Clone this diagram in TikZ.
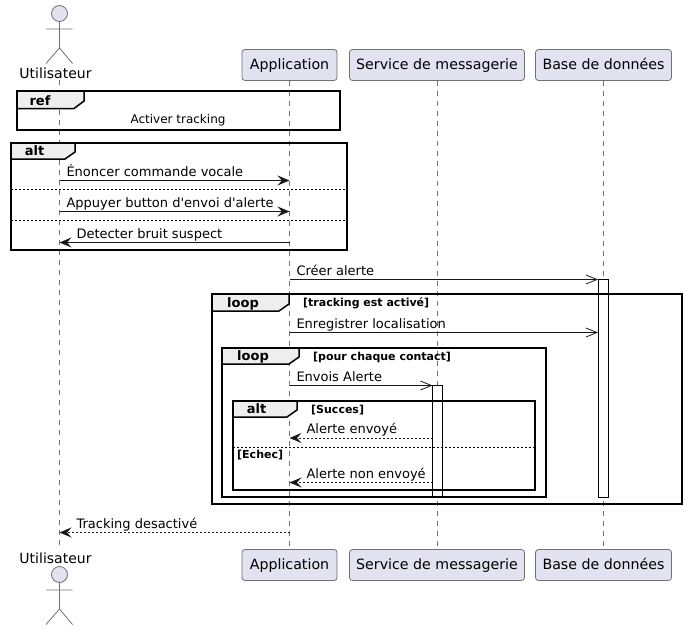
\documentclass[tikz,border=0pt]{standalone}
\usepackage{fontspec}
\setmainfont{DejaVu Sans}[Ligatures=TeXOff]
\usetikzlibrary{calc}
\usetikzlibrary{positioning}
\usetikzlibrary{arrows.meta}
\definecolor{partfill}{HTML}{E2E2F0}
\definecolor{umlline}{HTML}{181818}
\definecolor{umlthin}{HTML}{707070}
\definecolor{tabfill}{HTML}{EEEEEE}
\begin{document}
\begin{tikzpicture}[x=1pt,y=-1pt]
\tikzstyle{part}=[draw=umlthin,fill=partfill,rounded corners=3pt,line width=0.8pt,outer sep=0pt,
  inner xsep=0pt,minimum height=31pt,text height=11pt,text depth=2pt,font=\fontsize{14.2}{16}\selectfont,text=black]
\tikzstyle{actorline}=[draw=umlthin,line width=0.8pt]
\tikzstyle{actorlbl}=[anchor=base,inner sep=0pt,font=\fontsize{14}{16}\selectfont]
\tikzstyle{lifeline}=[draw=umlthin,line width=0.7pt,dash pattern=on 5pt off 5pt]
\tikzstyle{divider}=[draw=black,line width=0.8pt,dash pattern=on 2pt off 2pt]
\tikzstyle{bar}=[draw=black,fill=white,line width=1pt]
\tikzstyle{frame}=[draw=black,line width=2pt]
\tikzstyle{tab}=[draw=black,fill=tabfill,line width=1.5pt]
\tikzstyle{tablbl}=[anchor=base,inner sep=0pt,font=\fontsize{13}{15}\selectfont\bfseries]
\tikzstyle{guard}=[anchor=base west,inner sep=0pt,font=\fontsize{11}{13}\selectfont\bfseries]
\tikzstyle{call}=[draw=umlline,line width=1pt,-{Stealth[length=12pt,width=10pt,inset=4.5pt]}]
\tikzstyle{reply}=[call,dash pattern=on 2pt off 2pt]
\tikzstyle{async}=[draw=umlline,line width=1pt,-{Straight Barb[length=11pt,width=9pt,line width=0.8pt]}]
\tikzstyle{msg}=[anchor=base west,inner sep=0pt,font=\fontsize{13}{15}\selectfont]
\useasboundingbox (0,0) rectangle (686,630);

	% participants
	\node [part, minimum width = 95pt] (AppT) at (289.5,65) {Application};
	\node [part, minimum width = 175pt, right = 12.5pt of AppT] (SrvT) {Service de messagerie};
	\node [part, minimum width = 136pt, right = 11pt of SrvT] (BddT) {Base de données};
	\node [part, minimum width = 95pt, below = 469pt of AppT] (AppB) {Application};
	\node [part, minimum width = 175pt, right = 12.5pt of AppB] (SrvB) {Service de messagerie};
	\node [part, minimum width = 136pt, right = 11pt of SrvB] (BddB) {Base de données};

	% actors
	\node [actorlbl] (UtiT) at (55.5,78) {Utilisateur};
	\node [actorlbl] (UtiB) at (55.5,563) {Utilisateur};
	\draw [actorline, fill=partfill] (59.5,13.5) circle (8);
	\draw [actorline] (59.5,21.5) -- (59.5,48) (46,29) -- (72.5,29) (46,63.5) -- (59.5,48) -- (72.5,63.5);
	\draw [actorline, fill=partfill] (59.5,574.5) circle (8);
	\draw [actorline] (59.5,582.5) -- (59.5,609) (46,590) -- (72.5,590) (46,624.5) -- (59.5,609) -- (72.5,624.5);

	% lifelines
	\coordinate (UA) at (59.5,80);
	\coordinate (UB) at (59.5,549);
	\draw [lifeline] (UA) -- (UB);
	\draw [lifeline] (AppT.south) -- (AppB.north);
	\draw [lifeline] (SrvT.south) -- (SrvB.north);
	\draw [lifeline] (BddT.south) -- (BddB.north);

	% activations
	\draw [bar] (598,279.5) rectangle (608.5,497);
	\draw [bar] (432.5,385.5) rectangle (442.5,497);

	% ref
	\draw [frame] (17,91) rectangle (340,130);
	\draw [tab] (17,91) -- (84,91) -- (84,101) -- (74,108.5) -- (17,108.5) -- cycle;
	\node [tablbl] (refT) at (40,105) {ref};
	\node [anchor=base, inner sep=0pt, font=\fontsize{12}{14}\selectfont] (refL) at (178,123) {Activer tracking};

	% alt
	\draw [frame] (11,143) rectangle (347,250);
	\draw [tab] (11,143) -- (75,143) -- (75,152) -- (65,159) -- (11,159) -- cycle;
	\node [tablbl] (altA) at (34.5,155) {alt};
	\draw [divider] (11,189) -- (347,189);
	\draw [divider] (11,220) -- (347,220);

	% loop
	\draw [frame] (212,294) rectangle (682,504);
	\draw [tab] (212,294) -- (289,294) -- (289,304) -- (279,311) -- (212,311) -- cycle;
	\node [tablbl] (loopA) at (243,307) {loop};
	\node [guard] (grdA) at (303,306) {[tracking est activé]};

	% inner loop
	\draw [frame] (222,348) rectangle (546,497);
	\draw [tab] (222,348) -- (299,348) -- (299,357) -- (289,364) -- (222,364) -- cycle;
	\node [tablbl] (loopB) at (253,360) {loop};
	\node [guard] (grdB) at (313,360) {[pour chaque contact]};

	% inner alt
	\draw [frame] (233,401) rectangle (535,490);
	\draw [tab] (233,401) -- (297,401) -- (297,410) -- (287,417) -- (233,417) -- cycle;
	\node [tablbl] (altB) at (256.5,413) {alt};
	\node [guard] (grdC) at (311,413) {[Succes]};
	\draw [divider] (233,447.5) -- (535,447.5);
	\node [guard] (grdD) at (237,458) {[Echec]};

	% messages
	\coordinate (m1) at (0,180.5);
	\coordinate (m2) at (0,211.5);
	\coordinate (m3) at (0,242.5);
	\coordinate (m4) at (0,279.5);
	\coordinate (m5) at (0,332.5);
	\coordinate (m6) at (0,385.5);
	\coordinate (m7) at (0,438);
	\coordinate (m8) at (0,482.5);
	\coordinate (m9) at (0,532.5);
	\coordinate (barB) at (598,0);
	\coordinate (barS) at (432.5,0);

	\draw [call] (UA |- m1) -- node [msg, pos=0, xshift=6.5pt, yshift=4.5pt] (l1) {Énoncer commande vocale} (AppT |- m1);
	\draw [call] (UA |- m2) -- node [msg, pos=0, xshift=6.5pt, yshift=4.5pt] (l2) {Appuyer button d'envoi d'alerte} (AppT |- m2);
	\draw [call] (AppT |- m3) -- node [msg, pos=1, xshift=16.5pt, yshift=4.5pt] (l3) {Detecter bruit suspect} (UA |- m3);
	\draw [async] (AppT |- m4) -- node [msg, pos=0, xshift=6.5pt, yshift=4.5pt] (l4) {Créer alerte} (barB |- m4);
	\draw [async] (AppT |- m5) -- node [msg, pos=0, xshift=6.5pt, yshift=4.5pt] (l5) {Enregistrer localisation} (barB |- m5);
	\draw [async] (AppT |- m6) -- node [msg, pos=0, xshift=6.5pt, yshift=4.5pt] (l6) {Envois Alerte} (barS |- m6);
	\draw [reply] (barS |- m7) -- node [msg, pos=1, xshift=16.5pt, yshift=4.5pt] (l7) {Alerte envoyé} (AppT |- m7);
	\draw [reply] (barS |- m8) -- node [msg, pos=1, xshift=16.5pt, yshift=4.5pt] (l8) {Alerte non envoyé} (AppT |- m8);
	\draw [reply] (AppT |- m9) -- node [msg, pos=1, xshift=16.5pt, yshift=4.5pt] (l9) {Tracking desactivé} (UA |- m9);
\end{tikzpicture}
\end{document}
